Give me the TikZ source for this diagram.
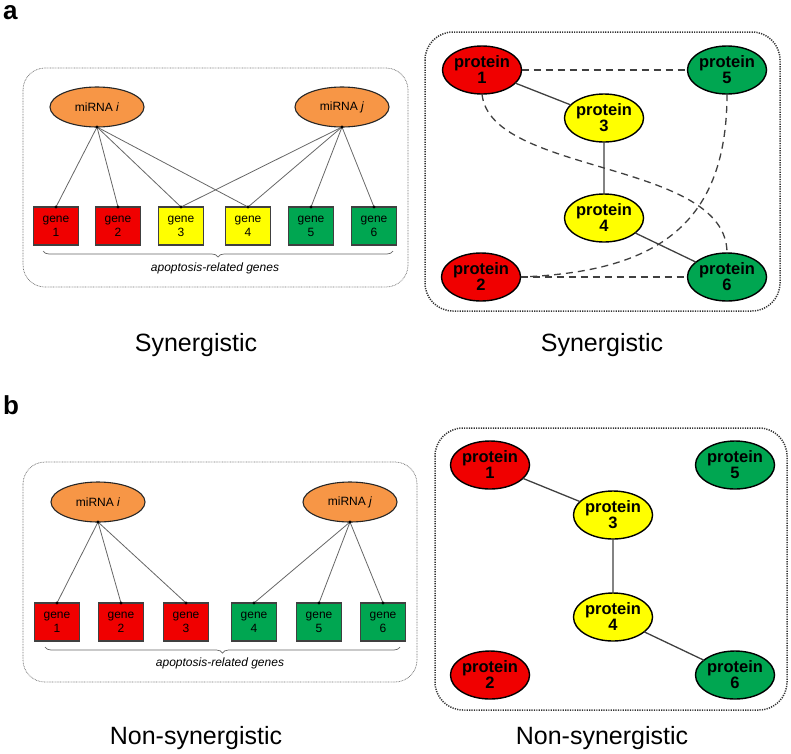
\documentclass[tikz,border=0pt]{standalone}
\usepackage{fontspec}
\setmainfont{Liberation Sans}
\usetikzlibrary{shapes.geometric,decorations.pathreplacing}
\definecolor{gred}{RGB}{240,0,0}
\definecolor{gyellow}{RGB}{255,255,0}
\definecolor{ggreen}{RGB}{0,166,81}
\definecolor{morange}{RGB}{247,150,70}
\begin{document}
\begin{tikzpicture}[x=1pt,y=-1pt,outer sep=0pt,inner sep=1pt,
    mirna/.style={ellipse, draw=black!85, line width=1.1pt, fill=morange, minimum width=94pt, minimum height=40pt, inner sep=0pt, font=\fontsize{12}{12}\selectfont},
    gene/.style={draw=black!75, line width=1.2pt, minimum width=45pt, minimum height=38pt, inner sep=0pt, align=center, font=\fontsize{12}{14}\selectfont},
    prot/.style={ellipse, draw=black, line width=1.4pt, minimum width=65pt, minimum height=48pt, inner sep=0pt, align=center, font=\bfseries\fontsize{16.5}{16}\selectfont},
    link/.style={draw=black!60, line width=0.8pt},
    ppi/.style={draw=black!75, line width=1.3pt},
    pdash/.style={ppi, dash pattern=on 7pt off 5pt},
    panel/.style={draw=black!55, dash pattern=on 0.8pt off 0.8pt, line width=0.7pt, rounded corners=22pt},
    pbox/.style={draw=black!80, dash pattern=on 1.2pt off 1.2pt, line width=1.5pt, rounded corners=28pt},
    genebrace/.style={draw=black!60, line width=0.7pt, decorate, decoration={brace, amplitude=6pt}},
    braced/.style={font=\itshape\fontsize{12}{12}\selectfont},
    caption/.style={font=\fontsize{25}{30}\selectfont},
    tag/.style={anchor=base west, font=\bfseries\fontsize{26}{26}\selectfont}]
    \useasboundingbox (0,0) rectangle (791,753);

    % panel a
    \node[tag] (taga) at (2,19) {a};
    \draw[panel] (23,68) rectangle (408,287);
    \node[mirna] (mia) at (97,107) {miRNA \textit{i}};
    \node[mirna] (mja) at (342,107) {miRNA \textit{j}};
    \foreach \gx/\c [count=\x] in {56/gred,118/gred,181/gyellow,248/gyellow,311/ggreen,374/ggreen}
        \node[gene, fill=\c] (ga\x) at (\gx,226) {gene\\\x};
    \foreach \x in {1,...,4} \draw[link] (mia.south) -- (ga\x.north);
    \foreach \x in {3,...,6} \draw[link] (mja.south) -- (ga\x.north);
    \foreach \n in {mia.south,mja.south,ga1.north,ga2.north,ga3.north,ga4.north,ga5.north,ga6.north}
        \fill (\n) circle (1.6pt);
    \draw[genebrace] (393,251) -- (43,251);
    \node[braced] (gla) at (215,268) {apoptosis-related genes};
    \node[caption] (syna) at (196,345) {Synergistic};

    \draw[pbox] (425,32) rectangle (780,311);
    \foreach \px/\py/\c [count=\x] in {482/70/gred,481/277/gred,604/118/gyellow,604/218/gyellow,727/70/ggreen,727/277/ggreen}
        \node[prot, fill=\c] (pa\x) at (\px,\py) {protein\\\x};
    \draw[ppi] (pa1) -- (pa3) -- (pa4) -- (pa6);
    \draw[pdash] (pa1) -- (pa5);
    \draw[pdash] (pa2) -- (pa6);
    \draw[pdash] (pa1.south) .. controls (490,175) and (727,160) .. (pa6.north);
    \draw[pdash] (pa5.south) .. controls (727,230) and (650,272) .. (pa2.east);
    \node[caption] (synb) at (602,345) {Synergistic};

    % panel b
    \node[tag] (tagb) at (2,414) {b};
    \draw[panel] (23,462) rectangle (417,682);
    \node[mirna] (mib) at (98,502) {miRNA \textit{i}};
    \node[mirna] (mjb) at (350,502) {miRNA \textit{j}};
    \foreach \gx/\c [count=\x] in {57/gred,121/gred,186/gred,254/ggreen,319/ggreen,383/ggreen}
        \node[gene, fill=\c] (gb\x) at (\gx,622) {gene\\\x};
    \foreach \x in {1,...,3} \draw[link] (mib.south) -- (gb\x.north);
    \foreach \x in {4,...,6} \draw[link] (mjb.south) -- (gb\x.north);
    \foreach \n in {mib.south,mjb.south,gb1.north,gb2.north,gb3.north,gb4.north,gb5.north,gb6.north}
        \fill (\n) circle (1.6pt);
    \draw[genebrace] (400,647) -- (45,647);
    \node[braced] (glb) at (220,663) {apoptosis-related genes};
    \node[caption] (nsyna) at (196,738) {Non-synergistic};

    \draw[pbox] (435,428) rectangle (787,710);
    \foreach \px/\py/\c [count=\x] in {490/465/gred,490/675/gred,613/515/gyellow,613/617/gyellow,735/465/ggreen,735/675/ggreen}
        \node[prot, fill=\c] (pb\x) at (\px,\py) {protein\\\x};
    \draw[ppi] (pb1) -- (pb3) -- (pb4) -- (pb6);
    \node[caption] (nsynb) at (602,738) {Non-synergistic};
\end{tikzpicture}
\end{document}
